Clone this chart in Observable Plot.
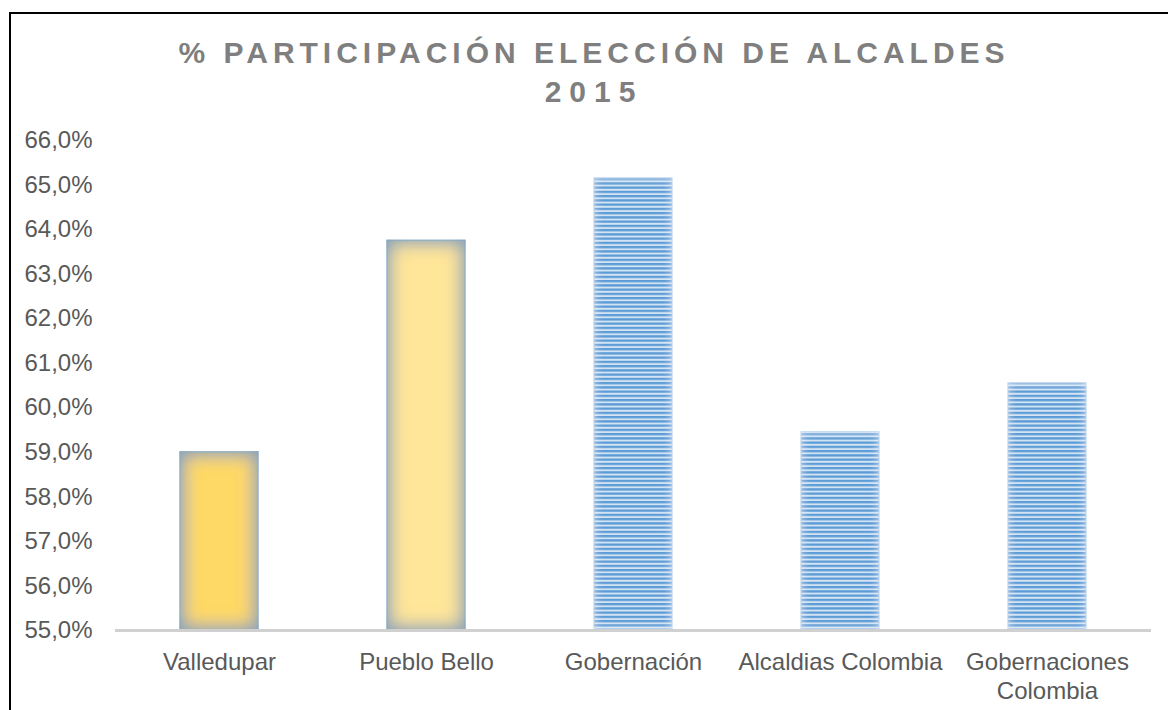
<!DOCTYPE html>
<html>
<head>
<meta charset="utf-8">
<script src="https://cdn.jsdelivr.net/npm/d3@7"></script>
<script src="https://cdn.jsdelivr.net/npm/@observablehq/plot@0.6"></script>
<style>
  html, body { margin: 0; padding: 0; background: #fff; width: 1168px; height: 710px; overflow: hidden; }
  body { font-family: "Liberation Sans", Arial, sans-serif; position: relative; }
  #frame { position: absolute; left: 9px; top: 12px; width: 1170px; height: 710px;
           border-left: 2px solid #000; border-top: 2px solid #000; pointer-events: none; }
  #title { position: absolute; left: 10px; top: 33px; width: 1168px; text-align: center;
           font-weight: bold; font-size: 30px; line-height: 39px; letter-spacing: 5px; color: #7f7f7f; }
  #title .yr { letter-spacing: 8px; }
  #chart { position: absolute; left: 0; top: 110px; }
</style>
</head>
<body>
<div id="frame"></div>
<div id="title">% PARTICIPACIÓN ELECCIÓN DE ALCALDES<br><span class="yr">2015</span></div>
<div id="chart"></div>
<script>
// ---- data ----
const categories = ["Valledupar", "Pueblo Bello", "Gobernación", "Alcaldias Colombia", "Gobernaciones Colombia"];
const values = [59.0, 63.75, 65.15, 59.45, 60.55];
const yTicks = [55, 56, 57, 58, 59, 60, 61, 62, 63, 64, 65, 66];
const xTickLabels = ["Valledupar", "Pueblo Bello", "Gobernación", "Alcaldias Colombia", "Gobernaciones\nColombia"];

// ---- styles (separate from data) ----
const fills = {
  "Valledupar": "#ffd966",
  "Pueblo Bello": "#ffe699",
  "Gobernación": "url(#stripes)",
  "Alcaldias Colombia": "url(#stripes)",
  "Gobernaciones Colombia": "url(#stripes)"
};

const yMin = yTicks[0];
const data = categories.map((c, i) => ({category: c, value: values[i]}));

const barMarks = categories.map(c =>
  Plot.barY(data.filter(d => d.category === c), {
    x: "category", y1: yMin, y2: "value",
    fill: fills[c], stroke: "#9dc3e6", strokeWidth: 1
  })
);

const chart = Plot.plot({
  width: 1168,
  height: 600,
  marginTop: 30,
  marginBottom: 80,
  marginLeft: 115,
  marginRight: 17,
  style: {fontFamily: "'Liberation Sans', Arial, sans-serif", fontSize: "24px", color: "#595959", background: "transparent"},
  x: {domain: categories, paddingInner: 0.623, paddingOuter: 0.3115, label: null},
  y: {domain: [yTicks[0], yTicks[yTicks.length - 1]], label: null},
  marks: [
    ...barMarks,
    Plot.ruleY([yMin], {stroke: "#d0d0d0", strokeWidth: 3}),
    Plot.axisY({ticks: yTicks, tickFormat: d => d.toFixed(1).replace(".", ",") + "%", tickSize: 0, tickPadding: 23, label: null}),
    Plot.axisX({tickSize: 0, tickPadding: 20, lineHeight: 1.17, label: null,
      tickFormat: d => xTickLabels[categories.indexOf(d)]})
  ]
});

// defs: stripe pattern and inner-edge filters
const svg = d3.select(chart);
const defs = svg.insert("defs", ":first-child");
const pat = defs.append("pattern").attr("id", "stripes").attr("patternUnits", "userSpaceOnUse")
  .attr("width", 8).attr("height", 4.25);
pat.append("rect").attr("width", 8).attr("height", 4.25).attr("fill", "#d2e3f4");
pat.append("rect").attr("width", 8).attr("height", 2.3).attr("fill", "#5b9bd5");

function innerFilter(id, color, opacity, std, reps) {
  const f = defs.append("filter").attr("id", id)
    .attr("x", "-60%").attr("y", "-40%").attr("width", "220%").attr("height", "180%");
  f.append("feFlood").attr("flood-color", color).attr("flood-opacity", opacity).attr("result", "f");
  f.append("feComposite").attr("in", "f").attr("in2", "SourceAlpha").attr("operator", "out").attr("result", "o");
  f.append("feGaussianBlur").attr("in", "o").attr("stdDeviation", std).attr("result", "b");
  f.append("feComposite").attr("in", "b").attr("in2", "SourceAlpha").attr("operator", "in").attr("result", "s");
  const m = f.append("feMerge");
  m.append("feMergeNode").attr("in", "SourceGraphic");
  for (let i = 0; i < reps; i++) m.append("feMergeNode").attr("in", "s");
}
innerFilter("innerGold", "#86a3b8", 1, 10, 2);
innerFilter("innerBlue", "#ffffff", 0.55, 5, 1);

svg.selectAll("rect").each(function() {
  const f = this.getAttribute("fill");
  const p = this.parentNode && this.parentNode.getAttribute("fill");
  const fill = f || p;
  if (fill === "#ffd966" || fill === "#ffe699") this.setAttribute("filter", "url(#innerGold)");
  else if (fill === "url(#stripes)") this.setAttribute("filter", "url(#innerBlue)");
});

document.getElementById("chart").appendChild(chart);
</script>
</body>
</html>
